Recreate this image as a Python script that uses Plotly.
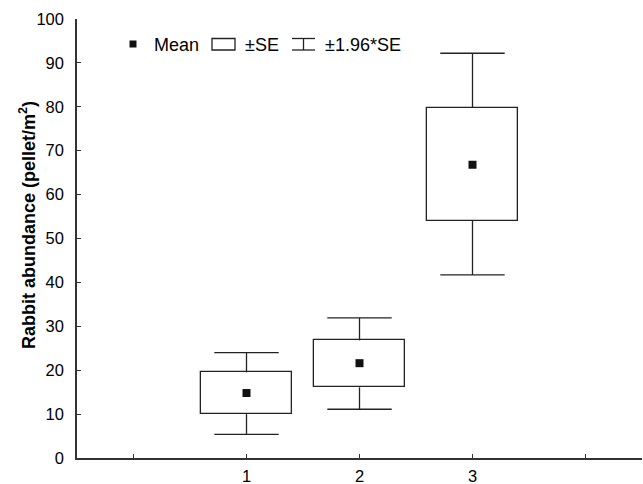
import plotly.graph_objects as go

# Data
categories = [1, 2, 3]
means = [14.8, 21.6, 66.8]
se_low = [10.0, 16.1, 54.1]
se_high = [19.5, 26.8, 79.8]
ci_low = [5.4, 11.1, 41.7]
ci_high = [24.0, 31.9, 92.2]
tick_vals = [1, 2, 3]
tick_text = ["1", "2", "3"]

FONT = "Liberation Sans, Arial, sans-serif"
LINE = "#222222"
CAP = 0.285  # half-width of whisker caps (x units)

fig = go.Figure()

# ±SE boxes
fig.add_trace(go.Bar(
    x=categories,
    base=se_low,
    y=[h - l for h, l in zip(se_high, se_low)],
    width=0.8,
    marker=dict(color="white", line=dict(color=LINE, width=1.3)),
    showlegend=False, hoverinfo="skip",
))

# ±1.96*SE whiskers
wx, wy = [], []
for c, lo, hi, bl, bh in zip(categories, ci_low, ci_high, se_low, se_high):
    wx += [c, c, None, c - CAP, c + CAP, None, c, c, None, c - CAP, c + CAP, None]
    wy += [bh, hi, None, hi, hi, None, bl, lo, None, lo, lo, None]
fig.add_trace(go.Scatter(
    x=wx, y=wy, mode="lines",
    line=dict(color=LINE, width=1.3),
    showlegend=False, hoverinfo="skip",
))

# Means
fig.add_trace(go.Scatter(
    x=categories, y=means, mode="markers",
    marker=dict(symbol="square", size=8, color="#111111"),
    showlegend=False,
))

# Target plot-area pixels
L, R, T, B = 77, 642, 19, 458
W, H = R - L, B - T


def px(x):
    return (x - L) / W


def py(y):
    return (B - y) / H


shapes = []
shapes.append(dict(type="rect", xref="paper", yref="paper",
                   x0=px(129.5), x1=px(136.5), y0=py(47.5), y1=py(40.5),
                   fillcolor="#111111", line=dict(width=0)))
shapes.append(dict(type="rect", xref="paper", yref="paper",
                   x0=px(212), x1=px(235), y0=py(50), y1=py(38.5),
                   fillcolor="white", line=dict(color=LINE, width=1.3)))
shapes.append(dict(type="line", xref="paper", yref="paper",
                   x0=px(292), x1=px(315), y0=py(38.5), y1=py(38.5),
                   line=dict(color=LINE, width=1.3)))
shapes.append(dict(type="line", xref="paper", yref="paper",
                   x0=px(292), x1=px(315), y0=py(50), y1=py(50),
                   line=dict(color=LINE, width=1.3)))
shapes.append(dict(type="line", xref="paper", yref="paper",
                   x0=px(303.5), x1=px(303.5), y0=py(38.5), y1=py(50),
                   line=dict(color=LINE, width=1.3)))

annotations = []
for txt, x0 in [("Mean", 152), ("±SE", 243), ("±1.96*SE", 323)]:
    annotations.append(dict(text=txt, xref="paper", yref="paper",
                            x=px(x0), y=py(44.5), xanchor="left", yanchor="middle",
                            showarrow=False, font=dict(family=FONT, size=18, color="black")))

annotations.append(dict(text="<b>Rabbit abundance (pellet/m<sup>2</sup>)</b>",
                        xref="paper", yref="paper", x=px(27), y=py(225),
                        xanchor="center", yanchor="middle", textangle=-90,
                        showarrow=False, font=dict(family=FONT, size=18, color="black")))

fig.update_layout(
    width=643, height=484,
    margin=dict(l=L, r=643 - R, t=T, b=484 - B, autoexpand=False),
    paper_bgcolor="white", plot_bgcolor="white",
    font=dict(family=FONT, size=16.5, color="black"),
    shapes=shapes, annotations=annotations,
    showlegend=False, bargap=0,
)

fig.update_xaxes(
    range=[-0.5, 4.5], tickmode="array", tickvals=tick_vals, ticktext=tick_text,
    showgrid=False, zeroline=False, showline=True, linecolor="#333333", linewidth=1.5,
    ticks="inside", ticklen=4, tickcolor="#333333", tickwidth=1,
    minor=dict(tick0=0, dtick=1, ticks="inside", ticklen=4, tickcolor="#333333",
               tickwidth=1, showgrid=False),
    tickfont=dict(family=FONT, size=16.5, color="black"),
    ticklabelstandoff=2, automargin=False,
)
fig.update_yaxes(
    range=[0, 100], tickmode="linear", tick0=0, dtick=10,
    showgrid=False, zeroline=False, showline=True, linecolor="#333333", linewidth=1.5,
    ticks="inside", ticklen=4, tickcolor="#333333", tickwidth=1,
    tickfont=dict(family=FONT, size=16.5, color="black"),
    ticklabelstandoff=8, automargin=False,
)

fig.write_html(
    "out.html",
    config={"displayModeBar": False},
    post_script="document.body.style.margin='0';document.body.style.overflow='hidden';",
)
